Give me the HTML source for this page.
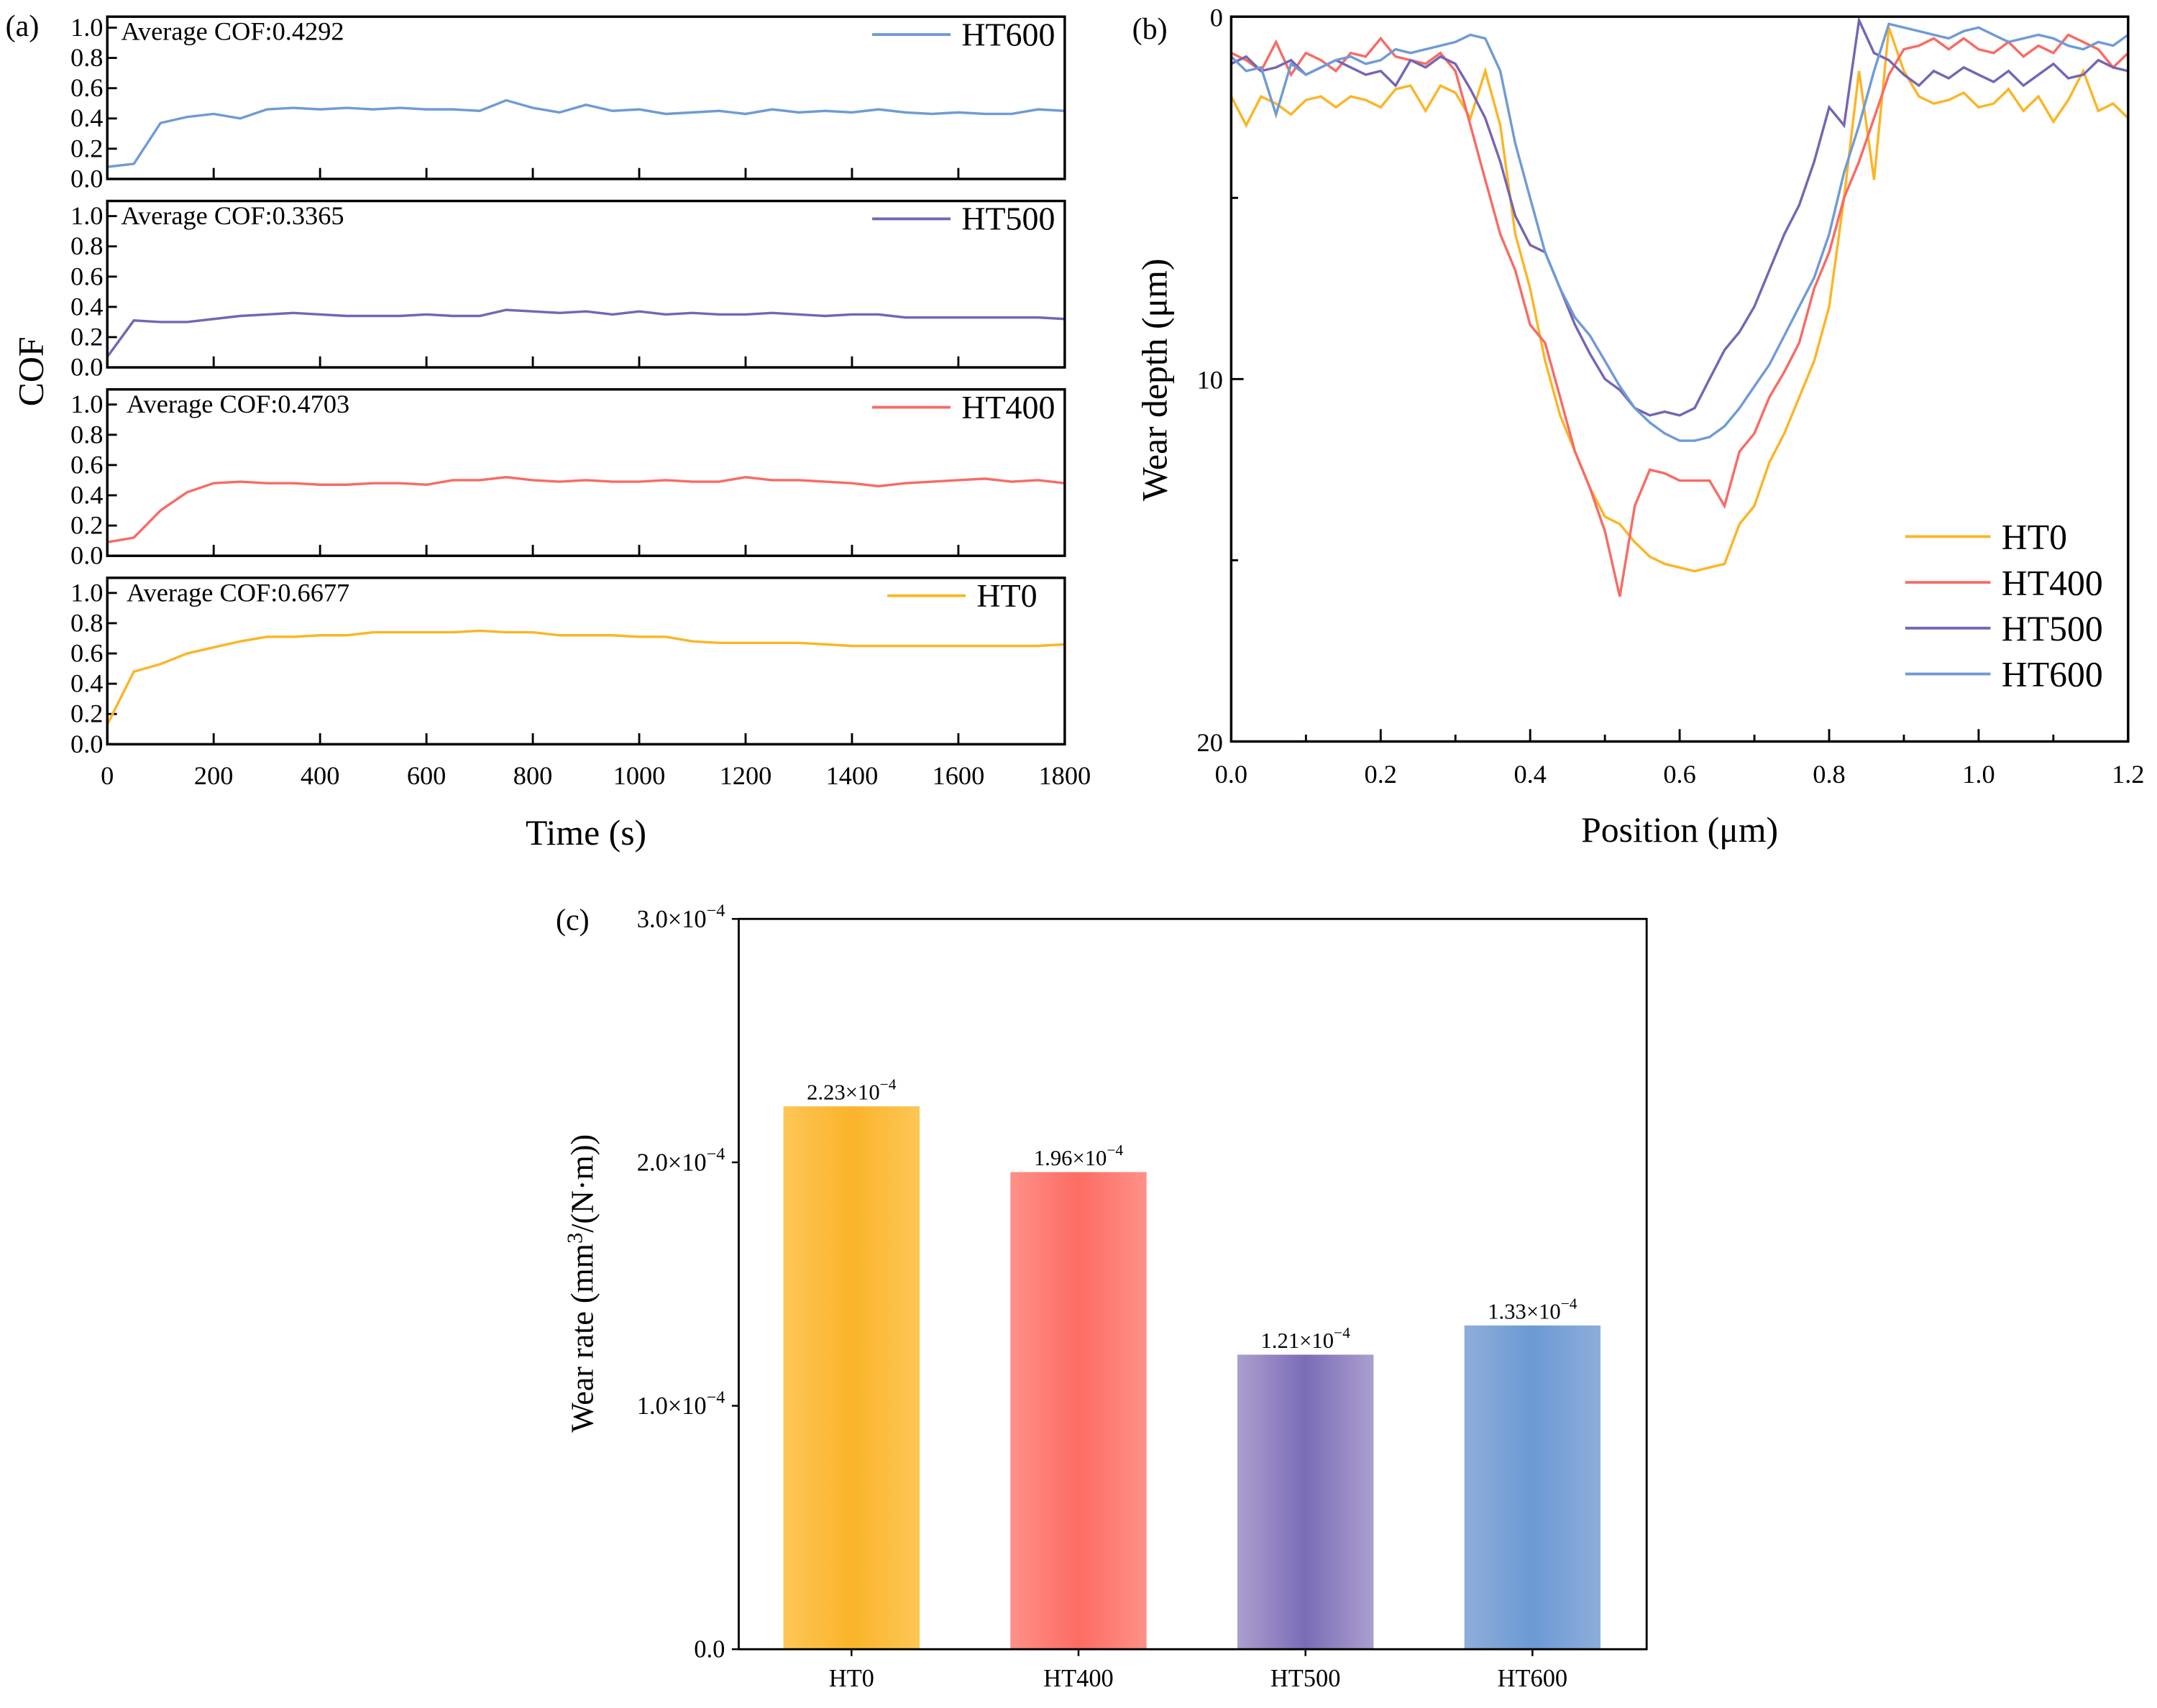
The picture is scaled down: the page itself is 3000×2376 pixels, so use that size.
<!DOCTYPE html>
<html><head><meta charset="utf-8"><style>
html,body{margin:0;padding:0;background:#fff}
svg,svg text{font-family:"Liberation Serif","Times New Roman",serif}
</style></head><body>
<svg id="fig" width="3000" height="2371" viewBox="0 0 1568 1239" xmlns="http://www.w3.org/2000/svg" font-family="Liberation Serif, serif">
<defs>
<linearGradient id="g0" x1="0" x2="1"><stop offset="0" stop-color="#fdc656"/><stop offset="0.5" stop-color="#fbb42a"/><stop offset="1" stop-color="#fdc656"/></linearGradient>
<linearGradient id="g1" x1="0" x2="1"><stop offset="0" stop-color="#fe9089"/><stop offset="0.5" stop-color="#fd6c62"/><stop offset="1" stop-color="#fe9089"/></linearGradient>
<linearGradient id="g2" x1="0" x2="1"><stop offset="0" stop-color="#ab9fce"/><stop offset="0.5" stop-color="#7c6bb7"/><stop offset="1" stop-color="#ab9fce"/></linearGradient>
<linearGradient id="g3" x1="0" x2="1"><stop offset="0" stop-color="#8eaddb"/><stop offset="0.5" stop-color="#6b9ad4"/><stop offset="1" stop-color="#8eaddb"/></linearGradient>
</defs>
</svg>
<script>
// ---- Panel (a) data: COF vs time (step 50 s)
const cofTimes = [0,50,100,150,200,250,300,350,400,450,500,550,600,650,700,750,800,850,900,950,1000,1050,1100,1150,1200,1250,1300,1350,1400,1450,1500,1550,1600,1650,1700,1750,1800];
const cofHT600 = [0.08,0.10,0.37,0.41,0.43,0.40,0.46,0.47,0.46,0.47,0.46,0.47,0.46,0.46,0.45,0.52,0.47,0.44,0.49,0.45,0.46,0.43,0.44,0.45,0.43,0.46,0.44,0.45,0.44,0.46,0.44,0.43,0.44,0.43,0.43,0.46,0.45];
const cofHT500 = [0.07,0.31,0.30,0.30,0.32,0.34,0.35,0.36,0.35,0.34,0.34,0.34,0.35,0.34,0.34,0.38,0.37,0.36,0.37,0.35,0.37,0.35,0.36,0.35,0.35,0.36,0.35,0.34,0.35,0.35,0.33,0.33,0.33,0.33,0.33,0.33,0.32];
const cofHT400 = [0.09,0.12,0.30,0.42,0.48,0.49,0.48,0.48,0.47,0.47,0.48,0.48,0.47,0.50,0.50,0.52,0.50,0.49,0.50,0.49,0.49,0.50,0.49,0.49,0.52,0.50,0.50,0.49,0.48,0.46,0.48,0.49,0.50,0.51,0.49,0.50,0.48];
const cofHT0 = [0.13,0.48,0.53,0.60,0.64,0.68,0.71,0.71,0.72,0.72,0.74,0.74,0.74,0.74,0.75,0.74,0.74,0.72,0.72,0.72,0.71,0.71,0.68,0.67,0.67,0.67,0.67,0.66,0.65,0.65,0.65,0.65,0.65,0.65,0.65,0.65,0.66];
const cofAvg = ["0.4292","0.3365","0.4703","0.6677"];
const cofNames = ["HT600","HT500","HT400","HT0"];
const xTicksA = [0,200,400,600,800,1000,1200,1400,1600,1800];
const yTicksA = [0,0.2,0.4,0.6,0.8,1.0];
// ---- Panel (b) data: wear profile (step 0.02 µm)
const posX = [0,0.02,0.04,0.06,0.08,0.1,0.12,0.14,0.16,0.18,0.2,0.22,0.24,0.26,0.28,0.3,0.32,0.34,0.36,0.38,0.4,0.42,0.44,0.46,0.48,0.5,0.52,0.54,0.56,0.58,0.6,0.62,0.64,0.66,0.68,0.7,0.72,0.74,0.76,0.78,0.8,0.82,0.84,0.86,0.88,0.9,0.92,0.94,0.96,0.98,1.0,1.02,1.04,1.06,1.08,1.1,1.12,1.14,1.16,1.18,1.2];
const depHT0 = [2.2,3.0,2.2,2.4,2.7,2.3,2.2,2.5,2.2,2.3,2.5,2.0,1.9,2.6,1.9,2.1,2.8,1.5,3.0,6.0,7.5,9.5,11.0,12.0,13.0,13.8,14.0,14.5,14.9,15.1,15.2,15.3,15.2,15.1,14.0,13.5,12.3,11.5,10.5,9.5,8.0,5.0,1.5,4.5,0.3,1.5,2.2,2.4,2.3,2.1,2.5,2.4,2.0,2.6,2.2,2.9,2.3,1.5,2.6,2.4,2.8];
const depHT400 = [1.0,1.2,1.5,0.7,1.6,1.0,1.2,1.5,1.0,1.1,0.6,1.1,1.2,1.3,1.0,1.5,3.0,4.5,6.0,7.0,8.5,9.0,10.5,12.0,13.0,14.2,16.0,13.5,12.5,12.6,12.8,12.8,12.8,13.5,12.0,11.5,10.5,9.8,9.0,7.5,6.5,5.0,4.0,2.8,1.6,0.9,0.8,0.6,0.9,0.6,0.9,1.0,0.7,1.1,0.8,1.0,0.5,0.7,0.9,1.4,1.0];
const depHT500 = [1.3,1.1,1.5,1.4,1.2,1.6,1.4,1.2,1.4,1.6,1.5,1.9,1.2,1.4,1.1,1.3,2.0,2.8,4.0,5.5,6.3,6.5,7.5,8.5,9.3,10.0,10.3,10.8,11.0,10.9,11.0,10.8,10.0,9.2,8.7,8.0,7.0,6.0,5.2,4.0,2.5,3.0,0.1,1.0,1.2,1.6,1.9,1.5,1.7,1.4,1.6,1.8,1.5,1.9,1.6,1.3,1.7,1.6,1.2,1.4,1.5];
const depHT600 = [1.1,1.5,1.4,2.7,1.3,1.6,1.4,1.2,1.1,1.3,1.2,0.9,1.0,0.9,0.8,0.7,0.5,0.6,1.5,3.5,5.0,6.5,7.5,8.3,8.8,9.5,10.2,10.8,11.2,11.5,11.7,11.7,11.6,11.3,10.8,10.2,9.6,8.8,8.0,7.2,6.0,4.3,3.0,1.5,0.2,0.3,0.4,0.5,0.6,0.4,0.3,0.5,0.7,0.6,0.5,0.6,0.8,0.9,0.7,0.8,0.5];
const xTicksB = [0,0.2,0.4,0.6,0.8,1.0,1.2];
const yTicksB = [0,10,20];
// ---- Panel (c) data: wear rate
const barCats = ["HT0","HT400","HT500","HT600"];
const barVals = [2.23,1.96,1.21,1.33];
const barLabels = ["2.23","1.96","1.21","1.33"];
const yTicksC = [0,1,2,3];

const svg = document.getElementById('fig');
const NS = 'http://www.w3.org/2000/svg';
const FF = '"Liberation Serif", serif';
function mk(tag, attrs, parent) {
  const e = document.createElementNS(NS, tag);
  for (const k in attrs) e.setAttribute(k, attrs[k]);
  (parent || svg).appendChild(e);
  return e;
}
function txt(s, x, y, size, anchor, parent) {
  const t = mk('text', {x: x, y: y, 'font-size': size, 'text-anchor': anchor || 'start', fill: '#000'}, parent);
  t.style.fontFamily = FF;
  t.textContent = s;
  return t;
}
const colors = {HT600: '#6f9bd5', HT500: '#7665b3', HT400: '#f86b64', HT0: '#fbb526'};

// ---------- Panel (a)
const AL = 78, AR = 774;
const ax = t => AL + (t / 1800) * (AR - AL);
const panels = [{top: 12, bot: 130}, {top: 146, bot: 267}, {top: 283, bot: 404}, {top: 420, bot: 541}];
const cofSeries = [cofHT600, cofHT500, cofHT400, cofHT0];
panels.forEach((p, i) => {
  const g = mk('g', {});
  
  
  const y0 = p.bot, y1 = p.bot - 110;
  const ay = v => y0 - (v / 1.0) * (y0 - y1);
  yTicksA.forEach(v => {
    mk('line', {x1: AL, x2: AL + 7, y1: ay(v), y2: ay(v), stroke: '#000', 'stroke-width': 1.5}, g);
    txt(v.toFixed(1), AL - 3, ay(v) + 6, 19, 'end', g);
  });
  xTicksA.forEach(t => mk('line', {x1: ax(t), x2: ax(t), y1: y0, y2: y0 - 8, stroke: '#000', 'stroke-width': 1.5}, g));
  const d = cofSeries[i].map((v, j) => (j ? 'L' : 'M') + ax(cofTimes[j]).toFixed(1) + ',' + ay(v).toFixed(1)).join('');
  const line = mk('path', {d: d, fill: 'none', stroke: colors[cofNames[i]], 'stroke-width': 1.8}, g);
  
  
  mk('rect', {x: AL, y: p.top, width: AR - AL, height: p.bot - p.top, fill: 'none', stroke: '#000', 'stroke-width': 1.8}, g);
  const at = txt('Average COF:' + cofAvg[i], 88 + (i >= 2 ? 4 : 0), p.top + 17, 19, 'start', g);
  
  
  const lx = cofNames[i] === 'HT0' ? 645 : 634;
  mk('line', {x1: lx, x2: lx + 57, y1: p.top + 13, y2: p.top + 13, stroke: colors[cofNames[i]], 'stroke-width': 2}, g);
  const lt = txt(cofNames[i], cofNames[i] === 'HT0' ? 710 : 699, p.top + 21, 24, 'start', g);
  
  
});
xTicksA.forEach(t => txt(String(t), ax(t), 570, 19, 'middle'));
txt('(a)', 4, 26, 22, 'start');
const cofTitle = txt('Time (s)', 426, 614, 26, 'middle');


const cofY = txt('COF', 0, 0, 26, 'middle');
cofY.setAttribute('transform', 'translate(31,270) rotate(-90)');



// ---------- Panel (b)
const BL = 895, BR = 1547, BT = 12, BB = 539;
const bx = v => BL + (v / 1.2) * (BR - BL);
const by = v => BT + (v / 20) * (BB - BT);
const gb = mk('g', {});


[0,0.1,0.2,0.3,0.4,0.5,0.6,0.7,0.8,0.9,1.0,1.1,1.2].forEach((v, i) => mk('line', {x1: bx(v), x2: bx(v), y1: BB, y2: BB - (i % 2 ? 5 : 9), stroke: '#000', 'stroke-width': 1.5}, gb));
[0,5,10,15,20].forEach((v, i) => mk('line', {x1: BL, x2: BL + (i % 2 ? 5 : 9), y1: by(v), y2: by(v), stroke: '#000', 'stroke-width': 1.5}, gb));
xTicksB.forEach(v => txt(v.toFixed(1), bx(v), 569, 19, 'middle', gb));
yTicksB.forEach(v => txt(String(v), BL - 6, by(v) + 7, 19, 'end', gb));
const depSeries = [['HT0', depHT0], ['HT400', depHT400], ['HT500', depHT500], ['HT600', depHT600]];
depSeries.forEach(([n, arr]) => {
  const d = arr.map((v, j) => (j ? 'L' : 'M') + bx(posX[j]).toFixed(1) + ',' + by(v).toFixed(1)).join('');
  const p = mk('path', {d: d, fill: 'none', stroke: colors[n], 'stroke-width': 1.8}, gb);
  
  
});
mk('rect', {x: BL, y: BT, width: BR - BL, height: BB - BT, fill: 'none', stroke: '#000', 'stroke-width': 1.8}, gb);
depSeries.forEach(([n], i) => {
  const y = 390 + i * 33.3;
  mk('line', {x1: 1385, x2: 1447, y1: y, y2: y, stroke: colors[n], 'stroke-width': 2}, gb);
  const t = txt(n, 1455, y + 9, 26, 'start', gb);
  
  
});
txt('(b)', 823, 28, 22, 'start');
const bxT = txt('Position (μm)', 1221, 612, 26, 'middle');


const byT = txt('Wear depth (μm)', 0, 0, 26, 'middle');
byT.setAttribute('transform', 'translate(848,276) rotate(-90)');



// ---------- Panel (c)
const CL = 537, CR = 1197, CT = 668, CB = 1199;
const cy = v => CB - (v / 3) * (CB - CT);
const cx = i => CL + 82 + i * 165;
const gc = mk('g', {});


function sci(parent, x, y, mant, size, anchor) {
  const t = mk('text', {x: x, y: y, 'font-size': size, 'text-anchor': anchor, fill: '#000'}, parent);
  t.style.fontFamily = FF;
  t.appendChild(document.createTextNode(mant + '×10'));
  const s = mk('tspan', {dy: -size * 0.45, 'font-size': size * 0.7}, t);
  s.textContent = '−4';
  return t;
}
yTicksC.forEach(v => {
  mk('line', {x1: CL, x2: CL - 5, y1: cy(v), y2: cy(v), stroke: '#000', 'stroke-width': 1.3}, gc);
  if (v === 0) txt('0.0', CL - 10, cy(v) + 6, 18, 'end', gc);
  else sci(gc, CL - 10, cy(v) + 6, v.toFixed(1), 18, 'end');
});
const grads = ['url(#g0)', 'url(#g1)', 'url(#g2)', 'url(#g3)'];
barVals.forEach((v, i) => {
  const r = mk('rect', {x: cx(i) - 49.5, y: cy(v), width: 99, height: CB - cy(v), fill: grads[i]}, gc);
  
  
  const l = sci(gc, cx(i), cy(v) - 5, barLabels[i], 16, 'middle');
  
  
  mk('line', {x1: cx(i), x2: cx(i), y1: CB, y2: CB + 5, stroke: '#000', 'stroke-width': 1.3}, gc);
  txt(barCats[i], cx(i), 1226, 18, 'middle', gc);
});
mk('rect', {x: CL, y: CT, width: CR - CL, height: CB - CT, fill: 'none', stroke: '#000', 'stroke-width': 1.5}, gc);
txt('(c)', 404, 676, 22, 'start');
const cyT = mk('text', {'font-size': 23, 'text-anchor': 'middle', fill: '#000', transform: 'translate(431,933) rotate(-90)'});
cyT.style.fontFamily = FF;
cyT.appendChild(document.createTextNode('Wear rate (mm'));
const sup = mk('tspan', {dy: -8, 'font-size': 16}, cyT); sup.textContent = '3';
const rest = mk('tspan', {dy: 8}, cyT); rest.textContent = '/(N·m))';


</script>
</body></html>
